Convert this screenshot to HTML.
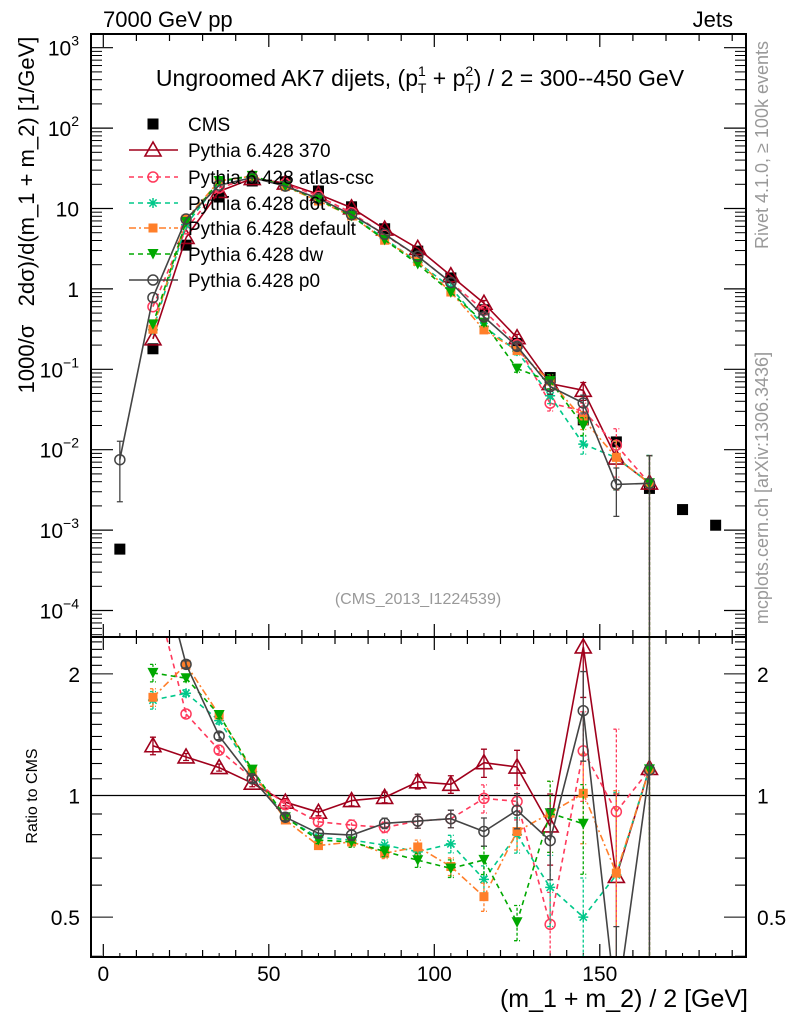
<!DOCTYPE html>
<html><head><meta charset="utf-8"><style>
html,body{margin:0;padding:0;background:#fff;overflow:hidden;width:786px;height:1024px;}
svg{display:block;font-family:"Liberation Sans",sans-serif;overflow:hidden;}
</style></head><body>
<svg id="chart" width="786" height="1024" viewBox="0 0 786 1024" xmlns="http://www.w3.org/2000/svg">
<defs>
<clipPath id="clipMain"><rect x="91" y="34" width="655" height="603"/></clipPath>
<clipPath id="clipRatio"><rect x="91" y="637" width="655" height="320"/></clipPath>
</defs>
<rect x="0" y="0" width="786" height="1024" fill="#fff"/>
<text x="103" y="27" font-size="22">7000 GeV pp</text>
<text x="733" y="27" font-size="22" text-anchor="end">Jets</text>
<text x="420" y="86" font-size="23" text-anchor="middle">Ungroomed AK7 dijets, (p<tspan font-size="14" dy="-10">1</tspan><tspan font-size="14" dx="-8" dy="17">T</tspan><tspan dy="-7"> + p</tspan><tspan font-size="14" dy="-10">2</tspan><tspan font-size="14" dx="-8" dy="17">T</tspan><tspan dy="-7">) / 2 = 300--450 GeV</tspan></text>
<text x="418" y="604" font-size="16" fill="#999" text-anchor="middle">(CMS_2013_I1224539)</text>
<text transform="translate(34,215) rotate(-90)" font-size="22" text-anchor="middle" xml:space="preserve">1000/σ   2dσ)/d(m_1 + m_2) [1/GeV]</text>
<text transform="translate(37,796) rotate(-90)" font-size="16" text-anchor="middle">Ratio to CMS</text>
<text x="748" y="1007" font-size="25" text-anchor="end">(m_1 + m_2) / 2 [GeV]</text>
<text transform="translate(768,145) rotate(-90)" font-size="18" fill="#999" text-anchor="middle">Rivet 4.1.0, ≥ 100k events</text>
<text transform="translate(768,488) rotate(-90)" font-size="18" fill="#999" text-anchor="middle">mcplots.cern.ch [arXiv:1306.3436]</text>
<g id="axes"></g>
<g id="series-main" clip-path="url(#clipMain)"></g>
<g id="series-ratio" clip-path="url(#clipRatio)"></g>
<g id="legend"></g>
<rect x="91" y="34" width="655" height="603" fill="none" stroke="#000" stroke-width="2"/>
<rect x="91" y="637" width="655" height="320" fill="none" stroke="#000" stroke-width="2"/>
</svg>
<script>
const xCenters=[5,15,25,35,45,55,65,75,85,95,105,115,125,135,145,155,165,175,185];
const cmsValues=[5.8e-4,0.18,3.5,13.9,22,21.5,16.5,10.5,5.6,2.95,1.37,0.55,0.21,0.079,0.0235,0.0125,0.0033,0.0018,0.00115];
const p370Values=[null,0.239,4.36,16.3,23.6,20.7,15.0,10.2,5.54,3.19,1.46,0.663,0.247,0.0664,0.0548,0.00788,0.00385];
const atlasValues=[null,0.6,5.57,18.0,24.3,20.4,14.2,8.87,4.67,2.55,1.20,0.541,0.203,0.0379,0.0303,0.0114,0.00382];
const d6tValues=[null,0.31,6.27,21.3,25.2,18.9,13.0,8.15,4.22,2.14,1.04,0.341,0.168,0.0468,0.01175,0.00795,0.00386];
const defaultValues=[null,0.315,7.39,22.0,25.3,18.7,12.4,8.06,4.03,2.20,0.914,0.309,0.171,0.0714,0.0238,0.00803,0.00382];
const dwValues=[null,0.362,6.83,22.0,25.5,19.0,12.8,8.06,4.07,2.04,0.904,0.381,0.102,0.0714,0.0200,null,0.00383];
const p0Values=[0.0075,0.78,7.39,19.5,24.2,19.0,13.3,8.38,4.78,2.55,1.20,0.448,0.193,0.0611,0.0381,0.0037,0.00382];
const relErrors=[0.7,0.05,0.02,0.02,0.02,0.02,0.02,0.03,0.03,0.04,0.05,0.08,0.1,0.2,0.25,0.6,1.2];
const xTicks=[0,50,100,150];
const yDecades=[-4,-3,-2,-1,0,1,2,3];
const yDecadeBase=["10","10","10","10","1","10","10","10"];
const yDecadeExp=["−4","−3","−2","−1","","","2","3"];
const ratioTicks=[0.5,1,2];
const ratioTickLabels=["0.5","1","2"];

const NS="http://www.w3.org/2000/svg";
const X=v=>103.3+v*3.31;
const clampM=y=>Math.min(Math.max(y,20),650);
const clampR=y=>Math.min(Math.max(y,620),975);
const Y=v=>47.7+(3-Math.log10(v))*80.4;
const YR=r=>795.5-404*Math.log10(r);
function mk(tag,attrs,parent){const e=document.createElementNS(NS,tag);for(const k in attrs)e.setAttribute(k,attrs[k]);parent.appendChild(e);return e;}
const axes=document.getElementById('axes');
const gMain=document.getElementById('series-main');
const gRatio=document.getElementById('series-ratio');
const gLeg=document.getElementById('legend');

for(let v=0;v<=190;v+=10){
  const major=v%50===0;const len=major?13:7;
  [[637,-1],[957,-1],[34,1],[637,1]].forEach(([y0,d])=>{
    const t=mk('line',{x1:X(v),x2:X(v),y1:y0,y2:y0+d*len,stroke:'#000','stroke-width':1.2},axes);
    
    
  });
}
for(let v=5;v<=190;v+=10){
  [[637,-1],[957,-1]].forEach(([y0,d])=>{
    const t=mk('line',{x1:X(v),x2:X(v),y1:y0,y2:y0+d*4,stroke:'#000','stroke-width':1},axes);
    
    
  });
}
xTicks.forEach(v=>{
  const t=mk('text',{x:X(v),y:981,'font-size':21,'text-anchor':'middle'},axes);
  t.textContent=v;
  
  
});
yDecades.forEach((d,i)=>{
  [[91,1],[746,-1]].forEach(([x0,s])=>{
    const t=mk('line',{x1:x0,x2:x0+s*22,y1:Y(Math.pow(10,d)),y2:Y(Math.pow(10,d)),stroke:'#000','stroke-width':1.2},axes);
    
    
    for(let m=2;m<=9;m++){
      const yy=Y(m*Math.pow(10,d));if(yy<34)continue;
      const mt=mk('line',{x1:x0,x2:x0+s*11,y1:yy,y2:yy,stroke:'#000','stroke-width':1},axes);
      
      
    }
  });
  const yy=Y(Math.pow(10,d))+8;
  const lab=mk('text',{x:79,y:yy,'font-size':21,'text-anchor':'end'},axes);
  
  
  if(yDecadeExp[i]){
    const b=mk('tspan',{},lab);b.textContent=yDecadeBase[i];
    const e=mk('tspan',{'font-size':14,dy:-10},lab);e.textContent=yDecadeExp[i];
  } else {lab.textContent=yDecadeBase[i];}
});
for(let m=5;m<=9;m++){const yy=Y(m*1e-5);if(yy<637){[[91,1],[746,-1]].forEach(([x0,s])=>{const mt=mk('line',{x1:x0,x2:x0+s*11,y1:yy,y2:yy,stroke:'#000','stroke-width':1},axes);});}}
for(let r=0.4;r<=2.5;r+=0.1){
  const major=ratioTicks.some(t=>Math.abs(t-r)<1e-6);
  const yy=YR(r);if(yy<637||yy>957)continue;
  [[91,1],[746,-1]].forEach(([x0,s])=>{
    const t=mk('line',{x1:x0,x2:x0+s*(major?22:11),y1:yy,y2:yy,stroke:'#000','stroke-width':1.1},axes);
    
    
  });
}
ratioTicks.forEach((r,i)=>{
  [[80,'end'],[757,'start']].forEach(([x,a])=>{
    const t=mk('text',{x:x,y:YR(r)+8,'font-size':21,'text-anchor':a},axes);
    t.textContent=ratioTickLabels[i];
    
    
  });
});
const one=mk('line',{x1:91,x2:746,y1:YR(1),y2:YR(1),stroke:'#000','stroke-width':1.3},axes);



function marker(g,type,color,x,y){
  let e;
  if(type==='sq'){e=mk('rect',{x:x-5.5,y:y-5.5,width:11,height:11,fill:color},g);}
  else if(type==='sqs'){e=mk('rect',{x:x-4.5,y:y-4.5,width:9,height:9,fill:color},g);}
  else if(type==='tri'){e=mk('polygon',{points:`${x},${y-8} ${x-8},${y+6} ${x+8},${y+6}`,fill:'#fff','fill-opacity':0,stroke:color,'stroke-width':1.6},g);}
  else if(type==='dtri'){e=mk('polygon',{points:`${x-5.5},${y-5} ${x+5.5},${y-5} ${x},${y+5.5}`,fill:color},g);}
  else if(type==='circ'){e=mk('circle',{cx:x,cy:y,r:5,fill:'none',stroke:color,'stroke-width':1.5},g);}
  else if(type==='star'){e=mk('path',{d:`M${x-5},${y}H${x+5}M${x},${y-5}V${y+5}M${x-3.6},${y-3.6}L${x+3.6},${y+3.6}M${x-3.6},${y+3.6}L${x+3.6},${y-3.6}`,stroke:color,'stroke-width':1.5},g);}
  return e;
}
const seriesList=[
  {name:'pythia-370',label:'Pythia 6.428 370',vals:p370Values,color:'#a0001c',dash:'',mk:'tri'},
  {name:'pythia-atlas-csc',label:'Pythia 6.428 atlas-csc',vals:atlasValues,color:'#ff3a5c',dash:'5,4',mk:'circ'},
  {name:'pythia-d6t',label:'Pythia 6.428 d6t',vals:d6tValues,color:'#00c88a',dash:'5,4',mk:'star'},
  {name:'pythia-default',label:'Pythia 6.428 default',vals:defaultValues,color:'#ff7f2a',dash:'7,3,2,3',mk:'sqs'},
  {name:'pythia-dw',label:'Pythia 6.428 dw',vals:dwValues,color:'#00a800',dash:'5,4',mk:'dtri'},
  {name:'pythia-p0',label:'Pythia 6.428 p0',vals:p0Values,color:'#444',dash:'',mk:'circ'}
];
cmsValues.forEach((v,i)=>{
  const e=marker(gMain,'sq','#000',X(xCenters[i]),Y(v));
  
  
});
seriesList.forEach(s=>{
  const gm=mk('g',{},gMain);
  const gr=mk('g',{},gRatio);
  let pm=[],pr=[];
  s.vals.forEach((v,i)=>{
    if(v==null){pm.push(null);pr.push(null);return;}
    const x=X(xCenters[i]);
    pm.push([x,Y(v)]);
    pr.push([x,YR(v/cmsValues[i])]);
  });
  function poly(g,pts,clamp){
    // clip segments to panel band to keep coordinates bounded
    let d='';let prev=null;
    pts.forEach(p=>{
      if(!p){prev=null;return;}
      if(prev){
        let [x1,y1]=prev,[x2,y2]=p;
        const lo=clamp===clampM?20:620, hi=clamp===clampM?650:975;
        const cut=(xa,ya,xb,yb)=>{ // move a toward b into band
          if(ya<lo){const t=(lo-ya)/(yb-ya);return [xa+t*(xb-xa),lo];}
          if(ya>hi){const t=(hi-ya)/(yb-ya);return [xa+t*(xb-xa),hi];}
          return [xa,ya];};
        if((y1<lo&&y2<lo)||(y1>hi&&y2>hi)){prev=p;return;}
        const a=cut(x1,y1,x2,y2),b=cut(x2,y2,x1,y1);
        d+=`M${a[0].toFixed(1)},${a[1].toFixed(1)}L${b[0].toFixed(1)},${b[1].toFixed(1)}`;
      }
      prev=p;
    });
    const l=mk('path',{d:d,fill:'none',stroke:s.color,'stroke-width':1.6,'stroke-dasharray':s.dash},g);
    
    
  }
  poly(gm,pm,clampM);poly(gr,pr,clampR);
  s.vals.forEach((v,i)=>{
    if(v==null)return;
    const x=X(xCenters[i]);const e=relErrors[i];
    const lo=v*(1-e),hi=v*(1+e);
    const yLo=lo>0?clampM(Y(lo)):650,yHi=clampM(Y(hi));
    const rLo=lo>0?clampR(YR(lo/cmsValues[i])):975,rHi=clampR(YR(hi/cmsValues[i]));
    [[gm,yLo,yHi],[gr,rLo,rHi]].forEach(([g,a,b])=>{
      if(Math.abs(a-b)<4)return;
      const eb=mk('path',{d:`M${x},${a}V${b}M${x-3},${a}H${x+3}M${x-3},${b}H${x+3}`,stroke:s.color,'stroke-width':1.3,'stroke-dasharray':s.dash?'3,2':''},g);
      
      
    });
    const ym=Y(v);
    if(ym>20&&ym<650){
      const m1=marker(gm,s.mk,s.color,x,ym);
      
      
    }
    const yr=YR(v/cmsValues[i]);
    if(yr>620&&yr<975){
      const m2=marker(gr,s.mk,s.color,x,yr);
      
      
    }
  });
});
const legRows=[124,150,177,203,228,254,280];
{
  const m=marker(gLeg,'sq','#000',153,legRows[0]);
  
  
  const t=mk('text',{x:188,y:legRows[0]+7,'font-size':19},gLeg);t.textContent='CMS';
  
  
}
seriesList.forEach((s,k)=>{
  const y=legRows[k+1];
  const l=mk('line',{x1:129,x2:178,y1:y,y2:y,stroke:s.color,'stroke-width':1.6,'stroke-dasharray':s.dash},gLeg);
  
  
  const m=marker(gLeg,s.mk,s.color,153,y);
  
  
  const t=mk('text',{x:188,y:y+7,'font-size':19},gLeg);t.textContent=s.label;
  
  
});
</script>
</body></html>
